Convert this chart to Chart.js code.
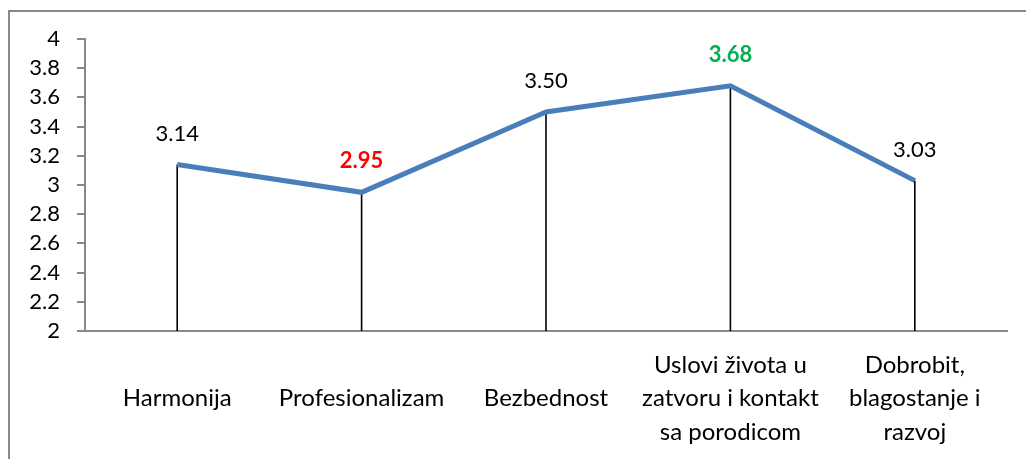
<!DOCTYPE html>
<html>
<head>
<meta charset="utf-8">
<script src="https://cdn.jsdelivr.net/npm/chart.js@4.4.1/dist/chart.umd.min.js"></script>
<style>
  html, body { margin: 0; padding: 0; background: #fff; }
  #wrap { position: relative; width: 1026px; height: 459px; }
</style>
</head>
<body>
<div id="wrap"><canvas id="c" width="1026" height="459"></canvas></div>
<script>
const categories = [
  ["", "Harmonija", ""],
  ["", "Profesionalizam", ""],
  ["", "Bezbednost", ""],
  ["Uslovi života u", "zatvoru i kontakt", "sa porodicom"],
  ["Dobrobit,", "blagostanje i", "razvoj"]
];
const values = [3.14, 2.95, 3.50, 3.68, 3.03];
const valueLabels = ["3.14", "2.95", "3.50", "3.68", "3.03"];
const labelColors = ["#000000", "#FF0000", "#000000", "#00B050", "#000000"];
const labelBold = [false, true, false, true, false];
const yMin = 2, yMax = 4, yStep = 0.2;

const FONT = "Lato, 'Open Sans', sans-serif";

const frame = {
  id: 'frame',
  beforeDraw(chart) {
    const ctx = chart.ctx;
    ctx.save();
    ctx.strokeStyle = '#898989';
    ctx.lineWidth = 2;
    ctx.beginPath();
    ctx.moveTo(9, 459);
    ctx.lineTo(9, 11);
    ctx.lineTo(1026, 11);
    ctx.stroke();
    ctx.restore();
  }
};

const dropLines = {
  id: 'dropLines',
  beforeDatasetsDraw(chart) {
    const ctx = chart.ctx;
    const meta = chart.getDatasetMeta(0);
    const yScale = chart.scales.y;
    ctx.save();
    ctx.strokeStyle = '#000';
    ctx.lineWidth = 1.6;
    meta.data.forEach(pt => {
      ctx.beginPath();
      ctx.moveTo(pt.x, pt.y);
      ctx.lineTo(pt.x, yScale.getPixelForValue(yMin));
      ctx.stroke();
    });
    ctx.restore();
  }
};

const valueLabelPlugin = {
  id: 'valueLabels',
  afterDatasetsDraw(chart) {
    const ctx = chart.ctx;
    const meta = chart.getDatasetMeta(0);
    ctx.save();
    ctx.textAlign = 'center';
    ctx.textBaseline = 'middle';
    meta.data.forEach((pt, i) => {
      ctx.font = (labelBold[i] ? 'bold ' : '') + '22px ' + FONT;
      ctx.fillStyle = labelColors[i];
      ctx.fillText(valueLabels[i], pt.x, pt.y - 31);
    });
    ctx.restore();
  }
};

new Chart(document.getElementById('c'), {
  type: 'line',
  data: {
    labels: categories,
    datasets: [{
      data: values,
      borderColor: '#4A7EBB',
      borderWidth: 5,
      pointRadius: 0,
      tension: 0,
      fill: false
    }]
  },
  options: {
    responsive: false,
    animation: false,
    events: [],
    layout: { padding: { top: 39, right: 19, bottom: 0, left: 0 } },
    plugins: { legend: { display: false }, tooltip: { enabled: false } },
    scales: {
      x: {
        offset: true,
        grid: { display: false, drawTicks: false, offset: true },
        border: { display: true, color: '#898989', width: 2 },
        ticks: {
          color: '#000',
          font: { family: FONT, size: 24, lineHeight: 1.38 },
          padding: 18,
          maxRotation: 0,
          autoSkip: false
        },
        afterFit(scale) { scale.height = 128; }
      },
      y: {
        min: yMin,
        max: yMax,
        grid: { drawOnChartArea: false, drawTicks: true, tickLength: 8, color: '#898989', lineWidth: 2 },
        border: { display: true, color: '#898989', width: 2 },
        ticks: {
          stepSize: yStep,
          autoSkip: false,
          color: '#000',
          font: { family: FONT, size: 22, lineHeight: 1 },
          padding: 17,
          callback: v => String(Math.round(v * 10) / 10)
        },
        afterFit(scale) { scale.width = 85; }
      }
    }
  },
  plugins: [frame, dropLines, valueLabelPlugin]
});
</script>
</body>
</html>
